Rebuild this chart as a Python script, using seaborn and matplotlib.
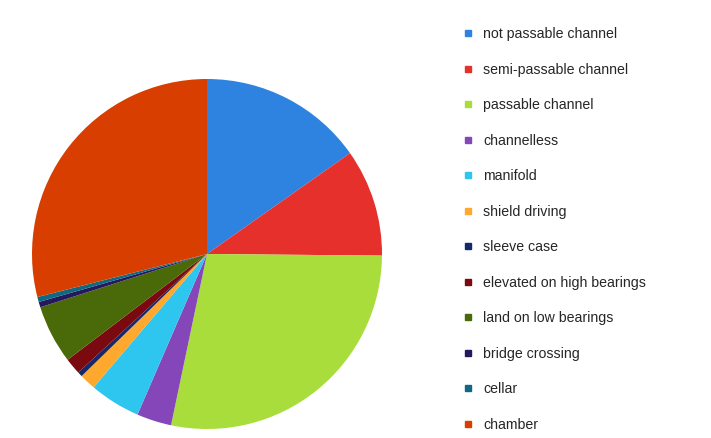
import matplotlib
matplotlib.use("Agg")
import seaborn as sns
import matplotlib.pyplot as plt
from matplotlib.lines import Line2D

# slice shares (%), read clockwise from 12 o'clock
labels = ["not passable channel", "semi-passable channel", "passable channel",
          "channelless", "manifold", "shield driving", "sleeve case",
          "elevated on high bearings", "land on low bearings", "bridge crossing",
          "cellar", "chamber"]
shares = [15.2, 9.9, 28.1, 3.2, 4.7, 1.5, 0.45, 1.5, 5.4, 0.5, 0.47, 28.9]
colors = ["#2f83e0", "#e6302c", "#a8dd3c", "#8446b8", "#2ec6ee", "#ffa82e",
          "#15286a", "#7a0a10", "#4a6a0a", "#26185e", "#0e6a80", "#d83e00"]

sns.set_theme(style="white")
plt.rcParams['font.family'] = ['Liberation Sans', 'DejaVu Sans']

fig = plt.figure(figsize=(7.11, 4.38), dpi=100)
ax = fig.add_axes([32 / 711, 9 / 438, 350 / 711, 350 / 438])
ax.pie(shares, colors=colors, startangle=90, counterclock=False,
       wedgeprops=dict(linewidth=0))
ax.set_xlim(-1, 1)
ax.set_ylim(-1, 1)
ax.set_aspect("equal")
ax.axis("off")

handles = [Line2D([0], [0], marker="s", linestyle="", markersize=4.5,
                  markerfacecolor=c, markeredgecolor=c) for c in colors]
fig.legend(handles, labels, loc="upper left", bbox_to_anchor=(455 / 711, 1 - 20 / 438),
           frameon=False, fontsize=10.2, labelspacing=1.52, handlelength=0.8,
           handletextpad=0.7, borderpad=0)

fig.savefig("out.png", dpi=100)
